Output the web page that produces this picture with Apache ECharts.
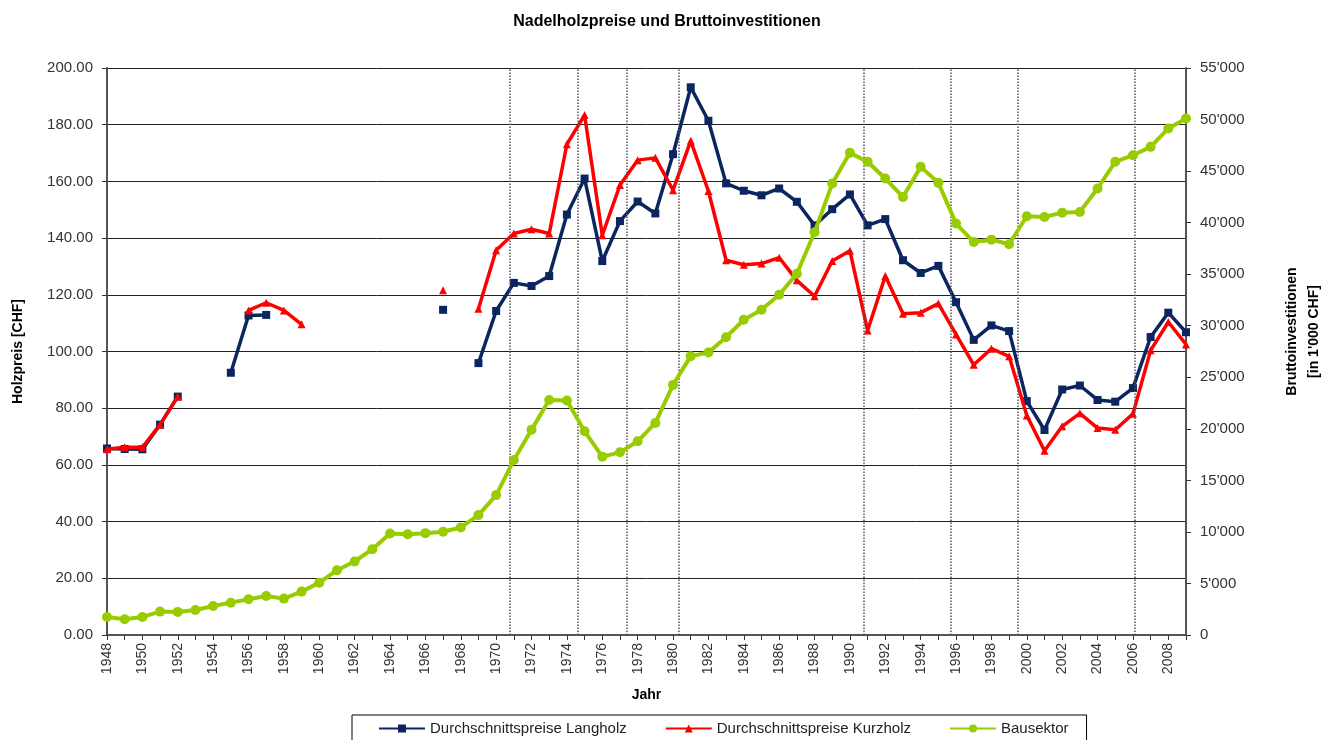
<!DOCTYPE html>
<html>
<head>
<meta charset="utf-8">
<title>Nadelholzpreise und Bruttoinvestitionen</title>
<script src="https://cdn.jsdelivr.net/npm/echarts@6/dist/echarts.min.js"></script>
<style>
  html, body { margin: 0; padding: 0; background: #fff; }
  #chart { width: 1334px; height: 740px; }
</style>
</head>
<body>
<div id="chart"></div>
<script>
const years = [
  '1948', '1949', '1950', '1951', '1952', '1953', '1954', '1955', '1956', '1957',
  '1958', '1959', '1960', '1961', '1962', '1963', '1964', '1965', '1966', '1967',
  '1968', '1969', '1970', '1971', '1972', '1973', '1974', '1975', '1976', '1977',
  '1978', '1979', '1980', '1981', '1982', '1983', '1984', '1985', '1986', '1987',
  '1988', '1989', '1990', '1991', '1992', '1993', '1994', '1995', '1996', '1997',
  '1998', '1999', '2000', '2001', '2002', '2003', '2004', '2005', '2006', '2007',
  '2008', '2009'
]

// Durchschnittspreise Langholz (CHF)
const langholz = [
  65.8, 65.6, 65.5, 74.2, 84.1, null, null, 92.5, 112.7, 112.9,
  null, null, null, null, null, null, null, null, null, 114.7,
  null, 95.9, 114.3, 124.2, 123.1, 126.6, 148.3, 161.0, 131.9, 146.0,
  152.9, 148.7, 169.6, 193.2, 181.4, 159.3, 156.7, 155.1, 157.5, 152.8,
  144.5, 150.2, 155.4, 144.5, 146.7, 132.2, 127.7, 130.2, 117.4, 104.1,
  109.2, 107.2, 82.5, 72.3, 86.6, 88.0, 82.9, 82.3, 87.1, 105.1,
  113.7, 106.8
]

// Durchschnittspreise Kurzholz (CHF)
const kurzholz = [
  65.5, 66.2, 66.2, 74.2, 84.1, null, null, null, 114.5, 117.2,
  114.5, 109.6, null, null, null, null, null, null, null, 121.6,
  null, 115.1, 135.7, 141.6, 143.1, 141.6, 173.1, 183.4, 141.0, 158.7,
  167.5, 168.3, 156.9, 174.3, 156.6, 132.2, 130.6, 131.0, 133.1, 125.1,
  119.5, 131.9, 135.5, 107.4, 126.6, 113.3, 113.7, 116.9, 106.0, 95.3,
  101.0, 98.3, 77.4, 65.0, 73.6, 78.2, 73.0, 72.4, 78.0, 100.4,
  110.4, 102.5
]

// Bausektor, Bruttoinvestitionen (in 1'000 CHF)
const bausektor = [
  1750, 1520, 1750, 2270, 2240, 2430, 2820, 3140, 3470, 3790,
  3530, 4210, 5080, 6280, 7130, 8320, 9850, 9780, 9880, 10010,
  10430, 11630, 13570, 16970, 19920, 22800, 22740, 19760, 17300, 17720,
  18790, 20570, 24260, 27050, 27400, 28890, 30580, 31550, 33010, 35050,
  39060, 43790, 46770, 45900, 44280, 42490, 45410, 43860, 39910, 38120,
  38350, 37900, 40620, 40550, 40970, 41040, 43310, 45900, 46540, 47350,
  49140, 50110
]

// dotted vertical markers (decimal years)
const markerYears = [1970.75, 1974.6, 1977.4, 1980.3, 1990.8, 1995.7, 1999.5, 2006.1]

const FONT = '"Liberation Sans", Arial, sans-serif'

function apostrophe(v) {
  if (v === 0) return '0'
  return String(v).replace(/\B(?=(\d{3})+(?!\d))/g, "'")
}

const option = {
  animation: false,
  backgroundColor: '#fff',
  textStyle: { fontFamily: FONT },
  title: {
    text: 'Nadelholzpreise und Bruttoinvestitionen',
    left: 'center',
    top: 9,
    textStyle: { fontFamily: FONT, fontSize: 16, fontWeight: 'bold', color: '#000' }
  },
  legend: {
    left: 352,
    top: 715,
    padding: [6, 18, 12, 26],
    itemWidth: 46,
    itemHeight: 10,
    itemGap: 38,
    borderColor: '#000',
    borderWidth: 1,
    borderRadius: 0,
    textStyle: { fontFamily: FONT, fontSize: 15, color: '#222' },
    data: ['Durchschnittspreise Langholz', 'Durchschnittspreise Kurzholz', 'Bausektor']
  },
  grid: {
    left: 107,
    right: 148,
    top: 68,
    bottom: 105
  },
  xAxis: [
    {
      type: 'category',
      data: years,
      boundaryGap: false,
      name: 'Jahr',
      nameLocation: 'middle',
      nameGap: 53,
      nameTextStyle: { fontFamily: FONT, fontSize: 14, fontWeight: 'bold', color: '#000' },
      axisLine: { lineStyle: { color: '#555', width: 2 } },
      axisTick: { interval: 0, length: 5, lineStyle: { color: '#333' } },
      axisLabel: {
        interval: 1,
        rotate: 90,
        fontSize: 14,
        color: '#333',
        margin: 8
      },
      splitLine: { show: false }
    },
    {
      type: 'value',
      min: 1948,
      max: 2009,
      show: false
    }
  ],
  yAxis: [
    {
      type: 'value',
      min: 0,
      max: 200,
      interval: 20,
      name: 'Holzpreis [CHF]',
      nameLocation: 'middle',
      nameRotate: 90,
      nameGap: 82,
      nameTextStyle: { fontFamily: FONT, fontSize: 14, fontWeight: 'bold', color: '#000' },
      axisLine: { show: true, lineStyle: { color: '#555', width: 2 } },
      axisTick: { show: true, length: 5, lineStyle: { color: '#333' } },
      axisLabel: {
        fontSize: 15,
        color: '#333',
        margin: 14,
        formatter: (v) => v.toFixed(2)
      },
      splitLine: { show: true, lineStyle: { color: '#222', width: 1 } }
    },
    {
      type: 'value',
      min: 0,
      max: 55000,
      interval: 5000,
      position: 'right',
      name: "Bruttoinvestitionen\n[in 1'000 CHF]",
      nameLocation: 'middle',
      nameRotate: 90,
      nameGap: 95,
      nameTextStyle: {
        fontFamily: FONT, fontSize: 14, fontWeight: 'bold', color: '#000',
        lineHeight: 22, align: 'center', padding: [0, 0, 0, 40]
      },
      axisLine: { show: true, lineStyle: { color: '#555', width: 2 } },
      axisTick: { show: true, length: 5, lineStyle: { color: '#333' } },
      axisLabel: {
        fontSize: 15,
        color: '#333',
        margin: 14,
        formatter: apostrophe
      },
      splitLine: { show: false }
    }
  ],
  series: [
    {
      name: 'Durchschnittspreise Langholz',
      type: 'line',
      data: langholz,
      yAxisIndex: 0,
      connectNulls: false,
      symbol: 'rect',
      symbolSize: 8,
      showAllSymbol: true,
      lineStyle: { color: '#0b2560', width: 3.5 },
      itemStyle: { color: '#0b2560' },
      z: 3
    },
    {
      name: 'Durchschnittspreise Kurzholz',
      type: 'line',
      data: kurzholz,
      yAxisIndex: 0,
      connectNulls: false,
      symbol: 'triangle',
      symbolSize: 8,
      showAllSymbol: true,
      lineStyle: { color: '#ff0000', width: 3.5 },
      itemStyle: { color: '#ff0000' },
      z: 4
    },
    {
      name: 'Bausektor',
      type: 'line',
      data: bausektor,
      yAxisIndex: 1,
      symbol: 'circle',
      symbolSize: 10,
      showAllSymbol: true,
      lineStyle: { color: '#99cc00', width: 4 },
      itemStyle: { color: '#99cc00' },
      z: 5
    },
    {
      name: 'markers',
      type: 'line',
      xAxisIndex: 1,
      yAxisIndex: 0,
      data: [[1948, 0]],
      symbol: 'none',
      lineStyle: { opacity: 0 },
      silent: true,
      z: 1,
      markLine: {
        silent: true,
        symbol: 'none',
        label: { show: false },
        lineStyle: { color: '#555', type: 'dotted', width: 1.5 },
        data: markerYears.map((y) => ({ xAxis: y }))
      }
    }
  ]
}

const chart = echarts.init(document.getElementById('chart'))
chart.setOption(option)
</script>
</body>
</html>
